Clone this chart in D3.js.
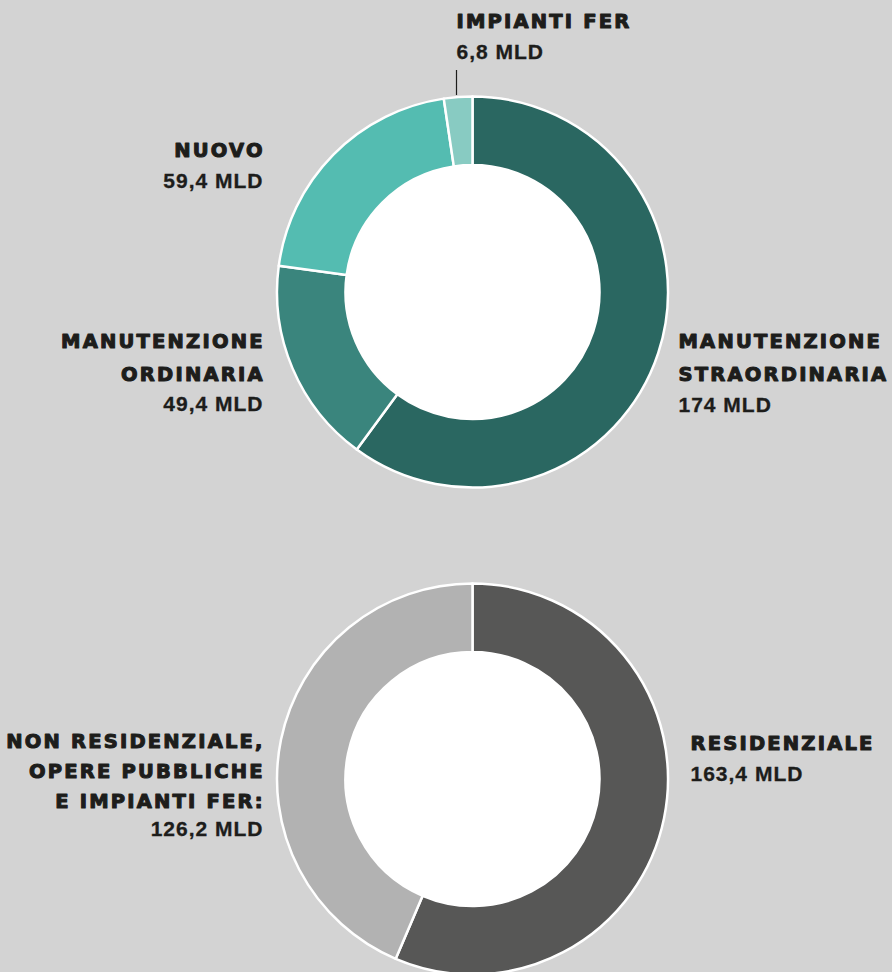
<!DOCTYPE html>
<html>
<head>
<meta charset="utf-8">
<script src="https://cdn.jsdelivr.net/npm/d3@7"></script>
<style>
  html, body { margin: 0; padding: 0; background: #d3d3d3; }
  svg { display: block; }
  .title { font-family: "DejaVu Sans", sans-serif; font-weight: bold; font-size: 19.5px; letter-spacing: 2.2px; fill: #1d1d1b; stroke: #1d1d1b; stroke-width: 1.1px; stroke-linejoin: round; }
  .value { font-family: "Liberation Sans", Arial, sans-serif; font-weight: bold; font-size: 21px; letter-spacing: 1px; fill: #1d1d1b; stroke: #1d1d1b; stroke-width: 0.3px; }
</style>
</head>
<body>
<svg id="chart"></svg>
<script>
// Top donut: type of intervention (billion euro)
const interventi = ["MANUTENZIONE STRAORDINARIA", "MANUTENZIONE ORDINARIA", "NUOVO", "IMPIANTI FER"];
const interventiValori = [174, 49.4, 59.4, 6.8];
const interventiEtichette = ["174 MLD", "49,4 MLD", "59,4 MLD", "6,8 MLD"];

// Bottom donut: sector
const settori = ["RESIDENZIALE", "NON RESIDENZIALE, OPERE PUBBLICHE E IMPIANTI FER:"];
const settoriValori = [163.4, 126.2];
const settoriEtichette = ["163,4 MLD", "126,2 MLD"];

const width = 892, height = 972;
const outerR = 195.5, innerR = 127;

const svg = d3.select("#chart")
    .attr("width", width)
    .attr("height", height);

svg.append("rect")
    .attr("width", width)
    .attr("height", height)
    .attr("fill", "#d3d3d3");

const pie = d3.pie().sort(null).value(d => d.value);
const arc = d3.arc().innerRadius(innerR).outerRadius(outerR);

// label layout: offsets relative to the donut centre
function drawDonut(cx, cy, names, values, labels, colors, layout) {
    const data = names.map((n, i) => ({name: n, value: values[i], label: labels[i]}));
    const g = svg.append("g").attr("transform", `translate(${cx},${cy})`);

    // white hole
    g.append("circle")
        .attr("r", innerR)
        .attr("fill", "#fff");

    g.selectAll("path")
        .data(pie(data))
        .join("path")
        .attr("d", arc)
        .attr("fill", (d, i) => colors[i])
        .attr("stroke", "#fff")
        .attr("stroke-width", 2.5)
        .attr("stroke-linejoin", "round");

    data.forEach((d, i) => {
        const l = layout[i];
        const lines = l.lines;
        const t = g.append("g")
            .attr("transform", `translate(${l.x},${l.y})`);
        lines.forEach((line, j) => {
            t.append("text")
                .attr("class", "title")
                .attr("x", l.anchor === "end" ? 2.2 : 0)
                .attr("y", j * l.pitch)
                .attr("text-anchor", l.anchor)
                .text(line);
        });
        t.append("text")
            .attr("class", "value")
            .attr("x", l.anchor === "end" ? 1 : 0)
            .attr("y", lines.length * l.pitch - 2)
            .attr("text-anchor", l.anchor)
            .text(d.label);

        if (l.leader) {
            g.append("line")
                .attr("x1", l.x).attr("x2", l.x)
                .attr("y1", l.leader[0]).attr("y2", l.leader[1])
                .attr("stroke", "#1d1d1b")
                .attr("stroke-width", 1.2);
        }
    });
}

// top donut
const topCx = 472.5, topCy = 292;
drawDonut(topCx, topCy, interventi, interventiValori, interventiEtichette,
    ["#2a6761", "#3a857d", "#54bcb1", "#88cbc2"],
    [
        {x: 206, y: 56, anchor: "start", pitch: 33, lines: ["MANUTENZIONE", "STRAORDINARIA"]},
        {x: -210, y: 56, anchor: "end", pitch: 32.5, lines: ["MANUTENZIONE", "ORDINARIA"]},
        {x: -210, y: -135, anchor: "end", pitch: 33, lines: ["NUOVO"]},
        {x: -16, y: -264, anchor: "start", pitch: 33, lines: ["IMPIANTI FER"], leader: [-222, -197]}
    ]);

// bottom donut
const botCx = 472.5, botCy = 779;
drawDonut(botCx, botCy, settori, settoriValori, settoriEtichette,
    ["#575756", "#b2b2b2"],
    [
        {x: 218, y: -29, anchor: "start", pitch: 33, lines: ["RESIDENZIALE"]},
        {x: -210, y: -31, anchor: "end", pitch: 30, lines: ["NON RESIDENZIALE,", "OPERE PUBBLICHE", "E IMPIANTI FER:"]}
    ]);
</script>
</body>
</html>
